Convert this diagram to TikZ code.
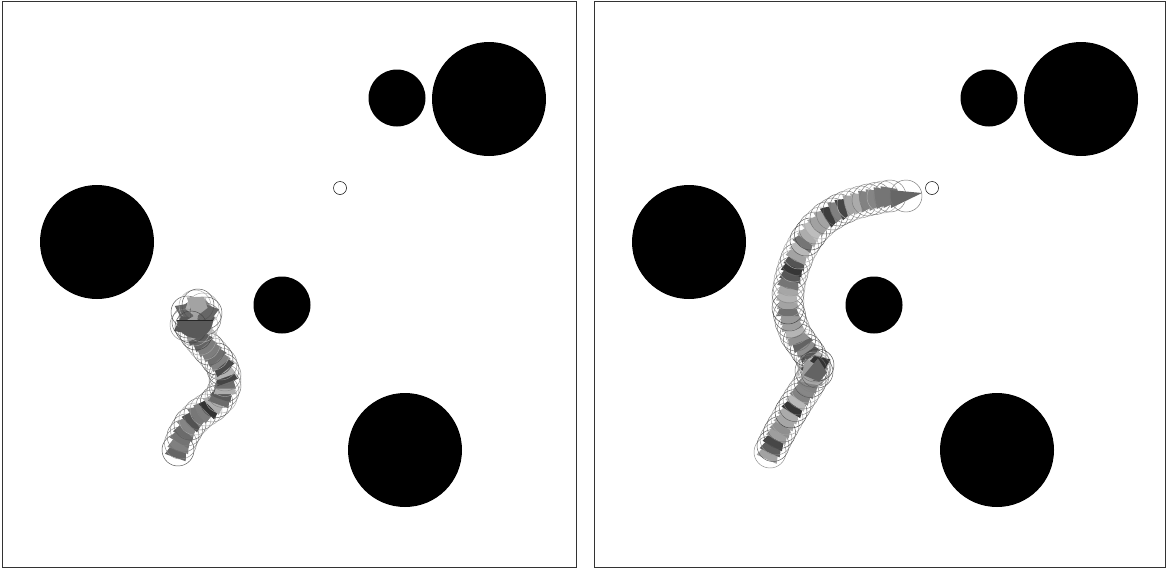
\documentclass[tikz,border=0pt]{standalone}
\tikzset{
  panel/.style={draw=black!80, line width=0.8pt},
  obstacle/.style={fill=black},
  goalmark/.style={draw=black, line width=0.5pt, fill=white},
  robotring/.style={draw=black!#1, line width=0.45pt},
  wedge/.style={fill=black!#1},
}
% one robot pose: filled wedge + outline ring
\newcommand\robotpose[3]{% x, y, angle (canvas degrees)
  \pgfmathrandominteger\rg{25}{80}%
  \pgfmathrandominteger\rr{30}{75}%
  \begin{scope}[shift={(#1,#2)}, rotate=#3]
    \fill[wedge=\rg] (-8,-11) -- (8,-6) -- (8,6) -- (-8,11) -- cycle;
    \draw[robotring=\rr] (0,0) circle (16);
  \end{scope}}
\begin{document}
\begin{tikzpicture}[x=1pt,y=-1pt]
\pgfmathsetseed{7}
\useasboundingbox (0,0) rectangle (1166,573);
\fill[white] (0,0) rectangle (1166,573);
% panels
\draw[panel] (2,1) rectangle (576,567);
\draw[panel] (594,1) rectangle (1165,567);
% obstacles and goal, both panels
\foreach \dx in {0,592}{
  \begin{scope}[xshift=\dx pt]
    \fill[obstacle] (397,98) circle (28.5);
    \fill[obstacle] (489,99) circle (57);
    \fill[obstacle] (97,242) circle (57);
    \fill[obstacle] (282,305) circle (28.5);
    \fill[obstacle] (405,450) circle (57);
    \draw[goalmark] (340,188) circle (6.5);
  \end{scope}
}
% left trajectory
\foreach \x/\y [remember=\x as \px (initially 178), remember=\y as \py (initially 450)] in
  {183/436, 190/424, 200/414, 212/406, 221/397, 225/386, 225/375, 221/364, 213/354, 204/344, 196/334, 192/326}{
  \pgfmathsetmacro\ang{atan2(\py-\y,\x-\px)}
  \foreach \t in {0,0.5}{
    \pgfmathsetmacro\qx{\px+\t*(\x-\px)}
    \pgfmathsetmacro\qy{\py+\t*(\y-\py)}
    \robotpose{\qx}{\qy}{\ang}
  }
}
% left: robot stuck, poses piled up
\foreach \a/\ox/\oy in {0/0/0, 40/8/-8, 120/-7/5, 200/7/9, 280/-8/-5, 330/10/2, 160/0/-11, 80/-9/8, 250/11/-4, 20/3/-12, 300/-4/10}{
  \robotpose{195+\ox}{317+\oy}{\a}
}
\fill[black!65] (177,320) arc[start angle=180, end angle=0, radius=18] -- cycle;
\draw[black!85, line width=0.6pt] (177,320) -- (213,320);
% right trajectory
\foreach \x/\y [remember=\x as \px (initially 770), remember=\y as \py (initially 452)] in
  {776/439, 783/426, 791/412, 799/399, 807/387, 813/376, 815/366, 810/355, 803/345, 796/335, 791/322, 788/308, 788/294, 790/280, 794/266, 799/253, 806/240, 815/228, 826/218, 839/210, 853/204, 868/200, 883/197, 897/195}{
  \pgfmathsetmacro\ang{atan2(\py-\y,\x-\px)}
  \foreach \t in {0,0.5}{
    \pgfmathsetmacro\qx{\px+\t*(\x-\px)}
    \pgfmathsetmacro\qy{\py+\t*(\y-\py)}
    \robotpose{\qx}{\qy}{\ang}
  }
}
% right: small pile-up near the kink
\foreach \a/\ox/\oy in {60/0/0, 150/4/-3, 240/-3/3, 320/3/4}{
  \robotpose{814+\ox}{368+\oy}{\a}
}
% right: final pose with long heading arrow
\fill[black!60] (890,190) -- (922,193) -- (891,208) -- cycle;
\draw[robotring=55] (906,196) circle (16);
\end{tikzpicture}
\end{document}
